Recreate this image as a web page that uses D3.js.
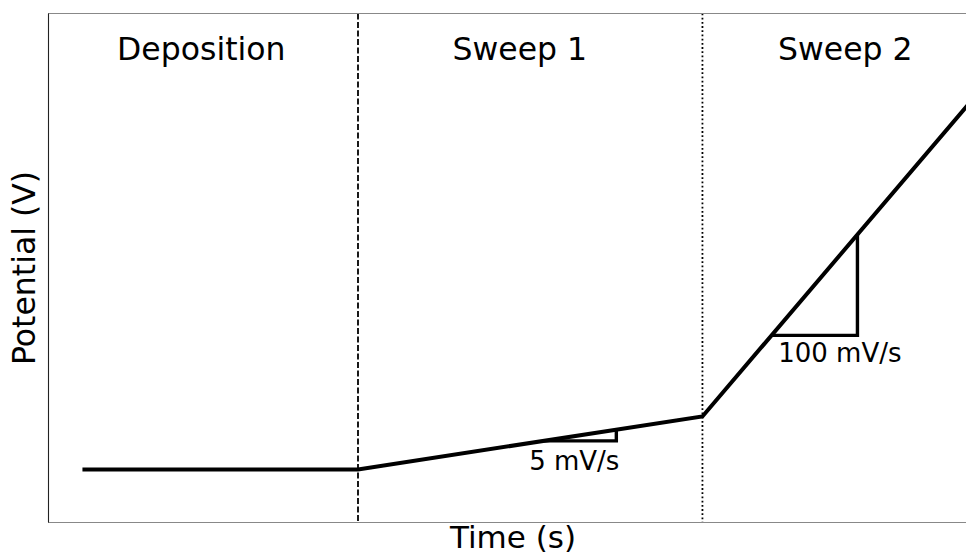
<!doctype html>
<html lang="en">
<head>
<meta charset="UTF-8">
<title>Deposition and sweeps</title>
<script src="https://cdn.jsdelivr.net/npm/d3@7"></script>
<style>
  body { margin: 0; background: #fff; }
  text { font-family: "DejaVu Sans", sans-serif; fill: #000; }
</style>
</head>
<body>
<div id="chart"></div>
<script>
// potential program (time in s, potential in V, schematic units)
const times = [0, 8, 18, 26]
const potentials = [0, 0, 1.0, 7.1]

// phase boundaries and phase labels
const boundaries = [8, 18]
const boundaryStyles = ["dashed", "dotted"]
const phaseNames = ["Deposition", "Sweep 1", "Sweep 2"]
const phaseLabelT = [3.45, 12.7, 22.15]
const phaseLabelV = 7.73

// slope triangles
const tri1 = [[13.4, 0.54], [15.5, 0.54], [15.5, 0.75]]
const tri2 = [[20.0, 2.53], [22.5, 2.53], [22.5, 4.43]]
const rateLabels = ["5 mV/s", "100 mV/s"]
const rateLabelPos = [[12.97, -0.01], [20.2, 2.03]]

const W = 966, H = 554
const m = {left: 48, top: 13.5, right: 978, bottom: 522.5}

const x = d3.scaleLinear().domain([-1, 26]).range([m.left, m.right])
const y = d3.scaleLinear().domain([-1, 8.6]).range([m.bottom, m.top])

const svg = d3.select('#chart').append('svg')
    .attr('width', W).attr('height', H)

svg.append('defs').append('clipPath').attr('id', 'clip')
    .append('rect')
    .attr('x', m.left).attr('y', m.top)
    .attr('width', m.right - m.left).attr('height', m.bottom - m.top)

const plot = svg.append('g').attr('clip-path', 'url(#clip)')

// phase boundaries
boundaries.forEach((t, i) => {
    plot.append('line')
        .attr('x1', x(t)).attr('x2', x(t))
        .attr('y1', m.top).attr('y2', m.bottom)
        .attr('stroke', '#000')
        .attr('stroke-width', 1.8)
        .attr('stroke-dasharray', boundaryStyles[i] === 'dashed' ? '6,2.5' : '1.8,2.4')
})

// potential line
const line = d3.line().x(d => x(d[0])).y(d => y(d[1]))
const pts = times.map((t, i) => [t, potentials[i]])
plot.append('path')
    .attr('d', line(pts))
    .attr('fill', 'none')
    .attr('stroke', '#000')
    .attr('stroke-width', 4)
    .attr('stroke-linejoin', 'miter')

// slope triangles
;[tri1, tri2].forEach(tri => {
    plot.append('path')
        .attr('d', line(tri))
        .attr('fill', 'none')
        .attr('stroke', '#000')
        .attr('stroke-width', 3.4)
})

rateLabels.forEach((s, i) => {
    plot.append('text')
        .attr('x', x(rateLabelPos[i][0]))
        .attr('y', y(rateLabelPos[i][1]))
        .attr('font-size', 26)
        .text(s)
})

phaseNames.forEach((s, i) => {
    plot.append('text')
        .attr('x', x(phaseLabelT[i]))
        .attr('y', y(phaseLabelV))
        .attr('text-anchor', 'middle')
        .attr('font-size', 31.5)
        .text(s)
})

// spines (right one falls outside the figure)
svg.append('line').attr('x1', m.left).attr('x2', W).attr('y1', m.top).attr('y2', m.top)
    .attr('stroke', '#888').attr('stroke-width', 1.1)
svg.append('line').attr('x1', m.left).attr('x2', W).attr('y1', m.bottom).attr('y2', m.bottom)
    .attr('stroke', '#888').attr('stroke-width', 1.1)
svg.append('line').attr('x1', m.left + 0.5).attr('x2', m.left + 0.5).attr('y1', m.top).attr('y2', m.bottom)
    .attr('stroke', '#222').attr('stroke-width', 1.1)

// axis labels
svg.append('text')
    .attr('x', (m.left + m.right) / 2).attr('y', 548)
    .attr('text-anchor', 'middle')
    .attr('font-size', 31)
    .text('Time (s)')

svg.append('text')
    .attr('transform', `translate(35, ${(m.top + m.bottom) / 2}) rotate(-90)`)
    .attr('text-anchor', 'middle')
    .attr('font-size', 31.5)
    .text('Potential (V)')
</script>
</body>
</html>
